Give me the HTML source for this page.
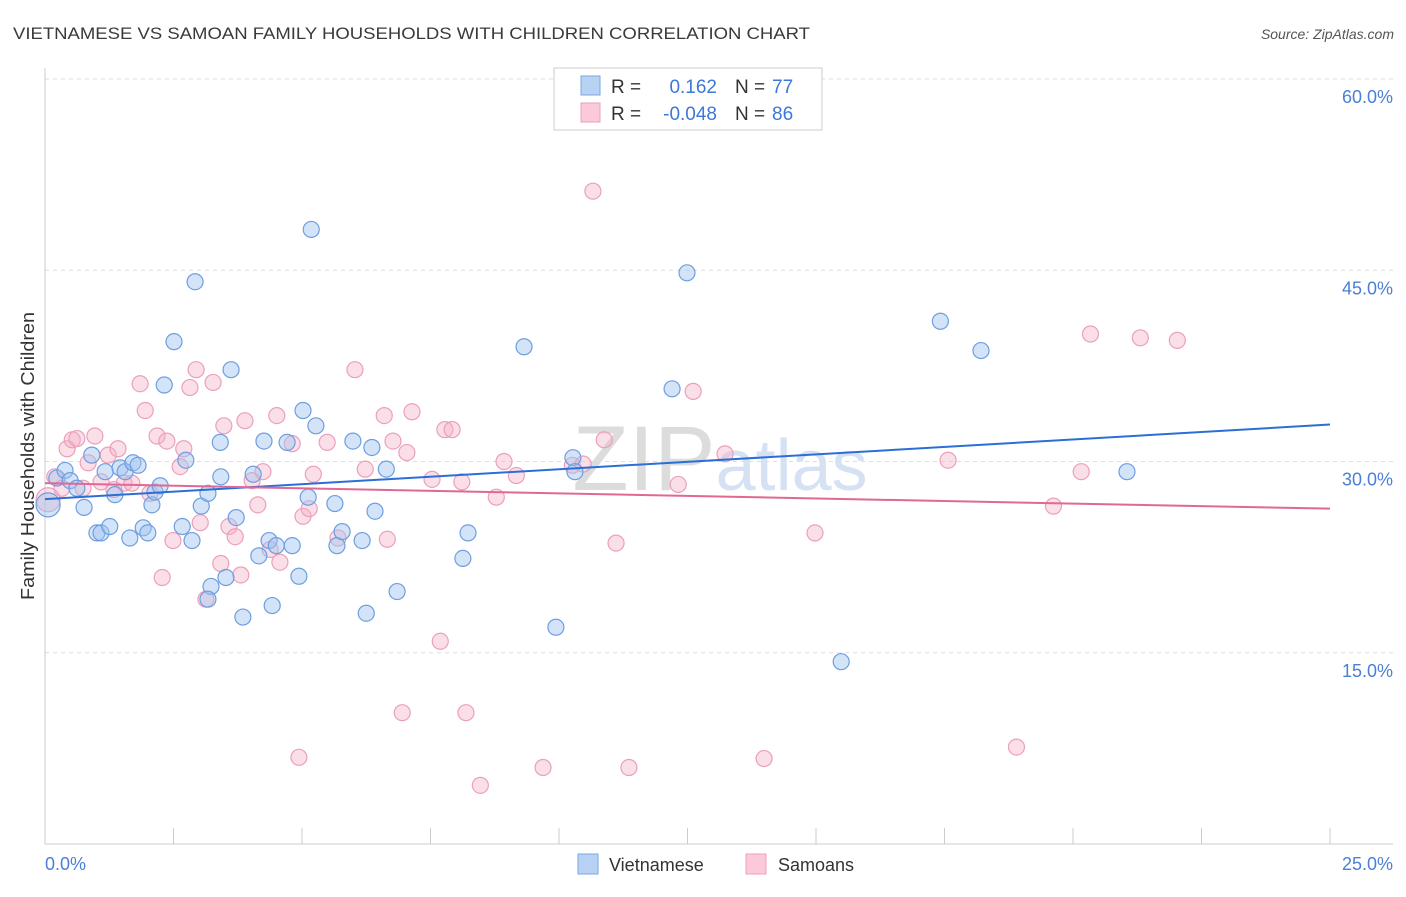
<!DOCTYPE html>
<html><head><meta charset="utf-8"><style>
body{margin:0;background:#fff;font-family:"Liberation Sans",sans-serif;}
svg text{font-family:"Liberation Sans",sans-serif;}
</style></head><body>
<svg id="chart" width="1406" height="892" viewBox="0 0 1406 892">
<text x="13" y="39" font-size="17" fill="#3a3a3a" textLength="797" lengthAdjust="spacingAndGlyphs">VIETNAMESE VS SAMOAN FAMILY HOUSEHOLDS WITH CHILDREN CORRELATION CHART</text>
<text x="1394" y="39" font-size="14" fill="#555" text-anchor="end" font-style="italic">Source: ZipAtlas.com</text>
<text x="720" y="490" font-size="92" fill="#e4e8ee" text-anchor="middle" font-family="Liberation Serif"><tspan fill="#dcdcdc">ZIP</tspan><tspan fill="#d6e2f4" font-family="Liberation Sans" font-size="72">atlas</tspan></text>
<g id="grid"></g>
<g id="axes"></g>
<g id="pts"></g>
<g id="trends"></g>
<text x="-600" y="34" transform="rotate(-90)" font-size="18" fill="#333" textLength="288" lengthAdjust="spacingAndGlyphs">Family Households with Children</text>
<g>
<rect x="554" y="68" width="268" height="62" fill="#fff" stroke="#ccc"/>
<rect x="581" y="76" width="19" height="19" fill="#b8d2f4" stroke="#7aa6e3"/>
<rect x="581" y="103" width="19" height="19" fill="#fbc9d8" stroke="#ec9fba"/>
<text x="611" y="93" font-size="19" fill="#333">R =</text>
<text x="717" y="93" font-size="19" fill="#3c78d8" text-anchor="end">0.162</text>
<text x="735" y="93" font-size="19" fill="#333">N =</text>
<text x="772" y="93" font-size="19" fill="#3c78d8">77</text>
<text x="611" y="120" font-size="19" fill="#333">R =</text>
<text x="717" y="120" font-size="19" fill="#3c78d8" text-anchor="end">-0.048</text>
<text x="735" y="120" font-size="19" fill="#333">N =</text>
<text x="772" y="120" font-size="19" fill="#3c78d8">86</text>
</g>
<g>
<rect x="578" y="854" width="20" height="20" fill="#b8d2f4" stroke="#7aa6e3"/>
<text x="609" y="871" font-size="18" fill="#333">Vietnamese</text>
<rect x="746" y="854" width="20" height="20" fill="#fbc9d8" stroke="#ec9fba"/>
<text x="778" y="871" font-size="18" fill="#333">Samoans</text>
</g>
</svg>
<script>
const xTicks=[0,2.5,5,7.5,10,12.5,15,17.5,20,22.5,25];
const yTicks=[15,30,45,60];
const yTickLabels=["15.0%","30.0%","45.0%","60.0%"];
const xEndLabels=["0.0%","25.0%"];
const vietX=[0.06,0.23,0.39,0.49,0.62,0.76,0.91,1.01,1.09,1.17,1.26,1.36,1.46,1.56,1.65,1.71,1.81,1.91,2.00,2.08,2.14,2.24,2.32,2.51,2.67,2.74,2.86,2.92,3.04,3.17,3.23,3.17,3.41,3.42,3.52,3.62,3.72,3.85,4.05,4.16,4.26,4.36,4.42,4.50,4.71,4.81,4.94,5.02,5.12,5.18,5.27,5.64,5.68,5.78,5.99,6.17,6.25,6.36,6.42,6.64,6.85,8.13,8.23,9.32,9.94,10.27,10.31,12.20,12.49,15.49,17.42,18.21,21.05];
const vietY=[26.6,28.7,29.3,28.5,27.9,26.4,30.5,24.4,24.4,29.2,24.9,27.4,29.5,29.2,24.0,29.9,29.7,24.8,24.4,26.6,27.6,28.1,36.0,39.4,24.9,30.1,23.8,44.1,26.5,27.5,20.2,19.2,31.5,28.8,20.9,37.2,25.6,17.8,29.0,22.6,31.6,23.8,18.7,23.4,31.5,23.4,21.0,34.0,27.2,48.2,32.8,26.7,23.4,24.5,31.6,23.8,18.1,31.1,26.1,29.4,19.8,22.4,24.4,39.0,17.0,30.3,29.2,35.7,44.8,14.3,41.0,38.7,29.2];
const samX=[0.06,0.19,0.33,0.43,0.53,0.62,0.74,0.84,0.97,1.09,1.23,1.34,1.42,1.54,1.69,1.85,1.95,2.04,2.18,2.28,2.37,2.49,2.63,2.70,2.82,2.94,3.02,3.13,3.27,3.42,3.48,3.58,3.70,3.81,3.89,4.03,4.14,4.24,4.38,4.51,4.57,4.81,4.94,5.02,5.14,5.22,5.49,5.70,6.03,6.23,6.60,6.66,6.77,6.95,7.04,7.14,7.53,7.69,7.78,7.92,8.11,8.19,8.47,8.78,8.93,9.17,9.69,10.26,10.47,10.66,10.88,11.11,11.36,12.32,12.61,13.23,13.99,14.98,17.57,18.90,19.62,20.16,20.34,21.31,22.03];
const samY=[27.0,28.8,27.9,31.0,31.7,31.8,27.9,29.9,32.0,28.4,30.5,27.8,31.0,28.3,28.3,36.1,34.0,27.5,32.0,20.9,31.6,23.8,29.6,31.0,35.8,37.2,25.2,19.2,36.2,22.0,32.8,24.9,24.1,21.1,33.2,28.5,26.6,29.2,23.1,33.6,22.1,31.4,6.8,25.7,26.3,29.0,31.5,24.0,37.2,29.4,33.6,23.9,31.6,10.3,30.7,33.9,28.6,15.9,32.5,32.5,28.4,10.3,4.6,27.2,30.0,28.9,6.0,29.7,29.8,51.2,31.7,23.6,6.0,28.2,35.5,30.6,6.7,24.4,30.1,7.6,26.5,29.2,40.0,39.7,39.5];
const trendVietEnds=[27.05,32.9];
const trendSamEnds=[28.3,26.3];

const NS="http://www.w3.org/2000/svg";
const X0=45,X1=1330,Y0=844,YTOP=79;
function xs(v){return X0+(v/25)*(X1-X0);}
function ys(v){return Y0-(v/60)*(Y0-YTOP);}
function mk(tag,attrs,parent){const e=document.createElementNS(NS,tag);for(const k in attrs)e.setAttribute(k,attrs[k]);parent.appendChild(e);return e;}
const grid=document.getElementById('grid'),axes=document.getElementById('axes');
yTicks.forEach((t,i)=>{
  const l=mk('line',{x1:X0,x2:1393,y1:ys(t),y2:ys(t),stroke:'#ddd','stroke-dasharray':'4,4'},grid);
  
  
  const tx=mk('text',{x:1393,y:ys(t)+24,'font-size':18,fill:'#4a7fd4','text-anchor':'end'},axes);
  tx.textContent=yTickLabels[i];
  
  
});
const xl=mk('line',{x1:X0,x2:1393,y1:Y0,y2:Y0,stroke:'#ccc'},axes);


const yl=mk('line',{x1:X0,x2:X0,y1:68,y2:Y0,stroke:'#ccc'},axes);


xTicks.forEach(t=>{
  const l=mk('line',{x1:xs(t),x2:xs(t),y1:Y0,y2:Y0-16,stroke:'#ccc'},axes);
  
  
});
[[0,'start',X0],[1,'end',1393]].forEach(([i,a,x])=>{
  const tx=mk('text',{x:x,y:870,'font-size':18,fill:'#4a7fd4','text-anchor':a},axes);
  tx.textContent=xEndLabels[i];
  
  
});
const pts=document.getElementById('pts');
function plot(X,Y,fill,stroke,name){
  X.forEach((v,i)=>{
    const c=mk('circle',{cx:xs(v),cy:ys(Y[i]),r:(i===0?12:8),fill:fill,stroke:stroke,'stroke-width':1.2},pts);
    
    
  });
}
plot(samX,samY,'rgba(246,176,198,0.4)','#eba0bb','samoan-point');
plot(vietX,vietY,'rgba(160,195,240,0.45)','#6e9ee0','vietnamese-point');
const tr=document.getElementById('trends');
const lb=mk('line',{x1:xs(0),x2:xs(25),y1:ys(trendVietEnds[0]),y2:ys(trendVietEnds[1]),stroke:'#2b6fd6','stroke-width':2},tr);


const lp=mk('line',{x1:xs(0),x2:xs(25),y1:ys(trendSamEnds[0]),y2:ys(trendSamEnds[1]),stroke:'#e06896','stroke-width':2},tr);


</script>
</body></html>
